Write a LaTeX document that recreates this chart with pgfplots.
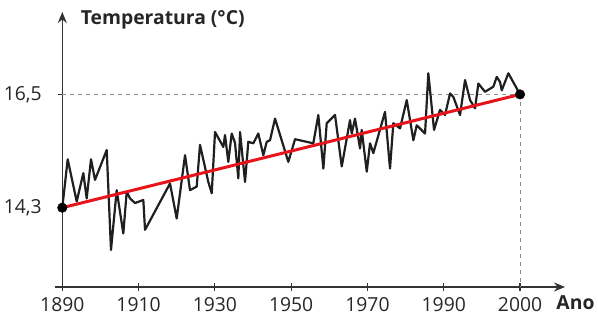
\documentclass[border=0pt]{standalone}
\usepackage{fontspec}
\setmainfont{Open Sans}
\usepackage{pgfplots}
\pgfplotsset{compat=1.18}
\usetikzlibrary{calc,arrows.meta}
\definecolor{axc}{HTML}{333333}
\definecolor{dashc}{HTML}{8C8C8C}
\definecolor{trend}{HTML}{E8141B}
\begin{document}
\begin{tikzpicture}
\begin{axis}[name=ax, scale only axis, width=502.7bp, height=275bp,
  xmin=1890, xmax=2010.8, ymin=12.76, ymax=18.1,
  axis x line=bottom, axis y line=left,
  axis line style={axc, line width=1.5bp, -{Stealth[length=11bp,width=9bp]}},
  xtick={1890,1908.3333,1926.6667,1945,1963.3333,1981.6667,2000},
  xticklabels={1890,1910,1930,1950,1970,1990,2000},
  ytick={14.3,16.5}, yticklabels={{14,3},{16,5}},
  tick align=center, major tick length=8bp,
  tick style={axc, line width=1.2bp},
  tick label style={font=\fontsize{19.4}{21}\selectfont, text=black!85},
  xticklabel style={yshift=-3bp},
  yticklabel style={xshift=-13bp},
  clip=false]
\addplot[dashc, dash pattern=on 4bp off 4bp, line width=0.9bp] coordinates {(1890,16.5) (2000,16.5)};
\addplot[dashc, dash pattern=on 4bp off 4bp, line width=0.9bp] coordinates {(2000,16.5) (2000,12.76)};
\addplot[black!88, line width=2.2bp, line join=round] coordinates {
(1890,14.30) (1891.30,15.24) (1893.46,14.42) (1895.05,14.97) (1895.86,14.48)
(1896.90,15.24) (1897.86,14.84) (1900.67,15.42) (1901.70,13.48) (1903.07,14.64)
(1904.66,13.80) (1905.48,14.61) (1906.27,14.48) (1907.47,14.39) (1909.47,14.45)
(1909.88,13.87) (1915.88,14.77) (1917.49,14.09) (1919.49,15.32) (1920.69,14.64)
(1922.30,14.71) (1923.09,15.52) (1925.09,14.80) (1925.91,14.58) (1926.70,15.77)
(1928.69,15.48) (1929.10,15.71) (1929.89,15.19) (1930.71,15.74) (1931.50,15.56)
(1932.30,14.87) (1932.71,15.77) (1933.91,14.80) (1934.70,15.58) (1935.90,15.55)
(1937.10,15.74) (1938.31,15.32) (1939.12,15.58) (1939.92,15.61) (1941.12,16.03)
(1944.31,15.19) (1945.93,15.63) (1950.32,15.55) (1951.52,16.10) (1952.73,15.06)
(1953.54,15.94) (1955.54,16.10) (1957.15,15.10) (1959.14,16.00) (1959.55,15.74)
(1960.34,16.03) (1961.55,15.45) (1961.95,15.81) (1963.16,15.00) (1963.95,15.55)
(1964.74,15.36) (1967.55,16.16) (1968.75,15.06) (1969.55,15.94) (1971.16,15.84)
(1972.77,16.39) (1974.36,15.61) (1975.17,15.90) (1977.17,15.74) (1977.96,16.91)
(1979.33,15.81) (1980.77,16.20) (1981.97,16.10) (1983.18,16.52) (1983.97,16.45)
(1985.58,16.10) (1986.78,16.78) (1987.98,16.39) (1989.18,16.23) (1989.98,16.71)
(1991.58,16.55) (1993.58,16.65) (1994.40,16.84) (1995.19,16.74) (1995.60,16.58)
(1997.19,16.91) (2000,16.50)};
\addplot[trend, line width=3bp] coordinates {(1890,14.3) (2000,16.5)};
\addplot[only marks, mark=*, mark size=4.8bp, black] coordinates {(1890,14.3) (2000,16.5)};
\draw[axc, line width=1.5bp] (axis cs:1888.2,12.76) -- (axis cs:1890,12.76);
\end{axis}
\node[anchor=west, font=\bfseries\fontsize{19.4}{21}\selectfont, text=black!85] at ($(ax.north west)+(15bp,-8bp)$) {Temperatura (°C)};
\node[anchor=east, font=\bfseries\fontsize{19.4}{21}\selectfont, text=black!85] at ($(ax.south east)+(33bp,-16bp)$) {Ano};
\pgfresetboundingbox
\path ($(ax.south west)+(-62.3bp,-31bp)$) rectangle ($(ax.south west)+(535.7bp,287bp)$);
\end{tikzpicture}
\end{document}
